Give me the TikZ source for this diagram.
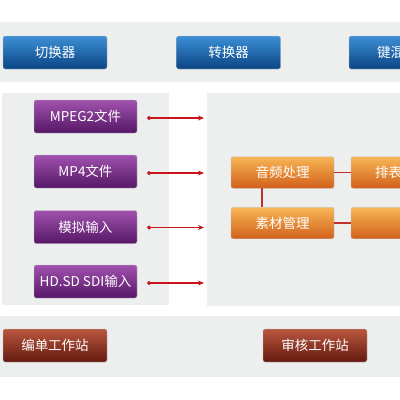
\documentclass[tikz,border=0pt]{standalone}
\usepackage{fontspec}
\setmainfont{Noto Sans CJK SC}
\usetikzlibrary{arrows.meta}
\definecolor{bandgray}{HTML}{EDEEEE}
\definecolor{arrred}{HTML}{C8141A}
\definecolor{linkred}{HTML}{C0302A}
\definecolor{HTML3C8FD6}{HTML}{3C8FD6}
\definecolor{HTML0B4585}{HTML}{0B4585}
\definecolor{HTMLA052AE}{HTML}{A052AE}
\definecolor{HTML561766}{HTML}{561766}
\definecolor{HTMLF7B656}{HTML}{F7B656}
\definecolor{HTMLD2601A}{HTML}{D2601A}
\definecolor{HTMLB9573F}{HTML}{B9573F}
\definecolor{HTML651A10}{HTML}{651A10}
\tikzset{
  btn/.style={rounded corners=2pt, minimum height=33pt, text=white, font=\fontsize{13.5}{15}\selectfont, inner sep=0pt, draw=black!25, line width=0.4pt},
  bluebtn/.style={btn, top color=HTML3C8FD6, bottom color=HTML0B4585, minimum width=104pt},
  purplebtn/.style={btn, top color=HTMLA052AE, bottom color=HTML561766, minimum width=103pt},
  orangebtn/.style={btn, top color=HTMLF7B656, bottom color=HTMLD2601A, minimum width=103pt, minimum height=31.5pt},
  brownbtn/.style={btn, top color=HTMLB9573F, bottom color=HTML651A10, minimum width=104pt},
  lbl/.style={text=white, font=\fontsize{13.5}{15}\selectfont, inner sep=0pt, anchor=west},
  feed/.style={arrred, line width=1.2pt, {Circle[length=3.8pt]}-{Stealth[length=6pt,width=5pt]}, shorten <=10pt},
  link/.style={linkred, line width=1.5pt},
  band/.style={fill=bandgray, draw=none}
}
\begin{document}
\begin{tikzpicture}[x=1pt, y=-1pt]
\useasboundingbox (0,0) rectangle (400,400);
\clip (0,0) rectangle (400,400);
\fill[white] (0,0) rectangle (400,400);
% bands
\path[band] (0,22) rectangle (400,82);
\path[band] (2,93) rectangle (169,305);
\path[band] (207,93) rectangle (402,306);
\path[band] (0,316) rectangle (400,377);
% top buttons
\node[bluebtn] (qh) at (55,52.5) {切换器};
\node[bluebtn] (zh) at (228.5,52.5) {转换器};
\node[bluebtn] (jh) at (401,52.5) {};
\node[lbl] (jhl) at (377,52.5) {键混};
% purple inputs
\node[purplebtn] (m1) at (85.5,116.5) {MPEG2文件};
\node[purplebtn] (m2) at (85.5,171.5) {MP4文件};
\node[purplebtn] (m3) at (85.5,227) {模拟输入};
\node[purplebtn] (m4) at (85.5,281.5) {HD.SD SDI输入};
\coordinate (e1) at (204,118);
\coordinate (e2) at (204,173);
\coordinate (e3) at (204,227.5);
\coordinate (e4) at (204,283);
\draw[feed] (m1.east |- e1) -- (e1);
\draw[feed] (m2.east |- e2) -- (e2);
\draw[feed] (m3.east |- e3) -- (e3);
\draw[feed] (m4.east |- e4) -- (e4);
% orange boxes
\node[orangebtn] (yp) at (282.5,172.5) {音频处理};
\node[orangebtn] (sc) at (282.5,223) {素材管理};
\node[orangebtn] (pb) at (402.5,172.5) {};
\node[lbl] (pbl) at (375,172.5) {排表};
\node[orangebtn] (ob) at (402.5,223) {};
\draw[link] (yp.east) -- (pb.west);
\draw[link] (sc.east) -- (ob.west);
\draw[link] ([xshift=-20.5pt]yp.south) -- ([xshift=-20.5pt]sc.north);
% bottom
\node[brownbtn] (bd) at (55,345.5) {编单工作站};
\node[brownbtn] (sh) at (315,345.5) {审核工作站};
\end{tikzpicture}
\end{document}
